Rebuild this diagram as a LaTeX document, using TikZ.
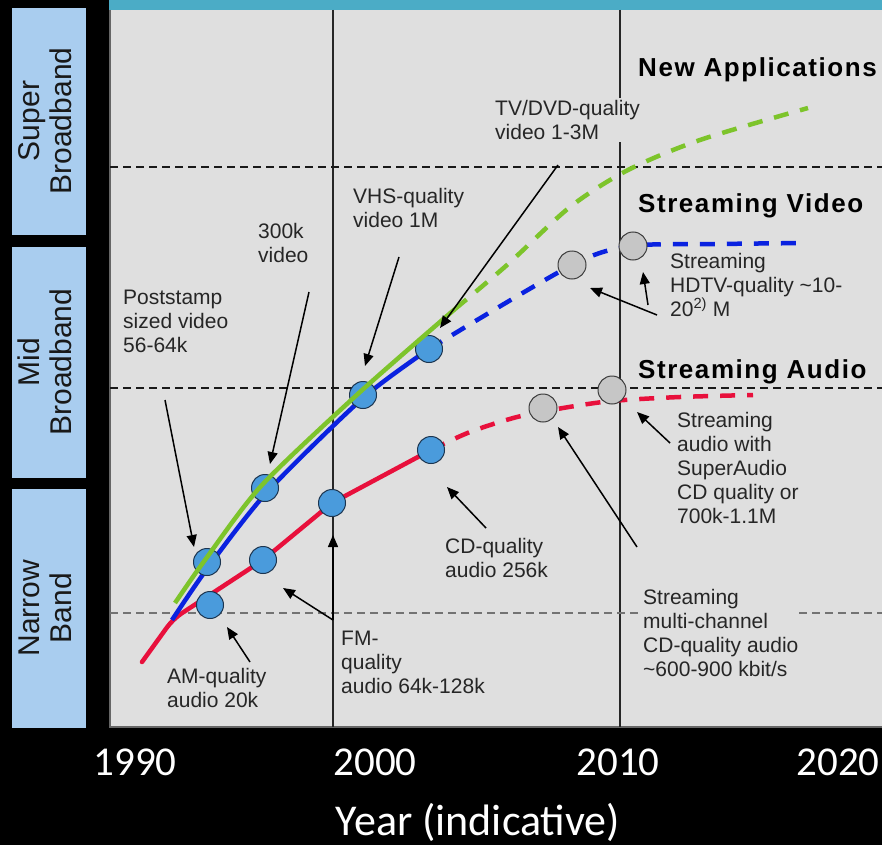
\documentclass[tikz,border=0pt]{standalone}
\usepackage{fontspec}
\setmainfont{Liberation Sans}
\newfontfamily\headfont[LetterSpace=6]{Liberation Sans}
\newfontfamily\calfont{Carlito}
\usetikzlibrary{arrows.meta}
\definecolor{bandblue}{HTML}{A9CDEF}
\definecolor{plotgray}{HTML}{DFDFDF}
\definecolor{tealbar}{HTML}{4BACC6}
\definecolor{redc}{HTML}{E8103C}
\definecolor{bluec}{HTML}{0A22E0}
\definecolor{greenc}{HTML}{7DC42B}
\definecolor{dotblue}{HTML}{4A9BDC}
\definecolor{dotedge}{HTML}{1C3550}
\definecolor{dotgray}{HTML}{C6C6C6}
\definecolor{dotgedge}{HTML}{3C3C3C}
\definecolor{labelgray}{HTML}{262626}
\begin{document}
\begin{tikzpicture}[x=1pt,y=-1pt,
  lbl/.style={font=\fontsize{21}{24}\selectfont, text=labelgray, align=left, anchor=north west, inner sep=0pt},
  head/.style={font=\headfont\bfseries\fontsize{26}{30}\selectfont, text=black, anchor=north west, inner sep=0pt},
  bandbox/.style={fill=bandblue, draw=none},
  bandtxt/.style={font=\fontsize{30}{32}\selectfont, text=black!90, rotate=90, align=center, inner sep=0pt},
  yr/.style={font=\calfont\fontsize{41}{44}\selectfont, text=white, inner sep=0pt},
  ptr/.style={-{Triangle[length=12pt,width=10pt]}, line width=1.5pt, black},
  dotb/.style={circle, fill=dotblue, draw=dotedge, line width=1pt, minimum size=27pt, inner sep=0pt},
  dotg/.style={circle, fill=dotgray, draw=dotgedge, line width=1pt, minimum size=28pt, inner sep=0pt},
  grid/.style={black!90, line width=1.6pt, dash pattern=on 8pt off 5pt},
  solidc/.style={line width=4.5pt},
  dashc/.style={line width=4.5pt, dash pattern=on 15pt off 12pt}
]
% background
\fill[black] (0,0) rectangle (882,845);
\useasboundingbox (0,0) rectangle (882,845);
% plot area
\fill[plotgray] (110,10) rectangle (882,727);
\fill[tealbar] (109,0) rectangle (882,10);
\draw[black!60, line width=2pt] (110,10) -- (110,727) -- (882,727);
% band boxes
\fill[bandbox] (12,8) rectangle (86,235);
\fill[bandbox] (12,247) rectangle (86,478);
\fill[bandbox] (12,489) rectangle (86,728);
\node[bandtxt] (bsuper) at (45,121) {Super\\Broadband};
\node[bandtxt] (bmid) at (45,362) {Mid\\Broadband};
\node[bandtxt] (bnarrow) at (45,608) {Narrow\\Band};
% grid lines
\draw[black!85, line width=1.5pt] (333,10) -- (333,727);
\draw[black!85, line width=1.5pt] (620,10) -- (620,727);
\draw[grid] (110,167) -- (882,167);
\draw[grid] (110,388) -- (882,388);
\draw[grid, black!55] (110,613) -- (882,613);
% headings
\node[head] (hnew) at (638,57) {New Applications};
\node[head] (hvid) at (638,193) {Streaming Video};
\node[head] (haud) at (638,359) {Streaming Audio};
% dot coordinates
\coordinate (pPost) at (207,562);
\coordinate (p300) at (265,488);
\coordinate (pVHS) at (363,395);
\coordinate (pTV) at (429,349);
\coordinate (pAM) at (210,605);
\coordinate (pFM1) at (263,560);
\coordinate (pFM2) at (332,503);
\coordinate (pCD) at (431,450);
\coordinate (gA1) at (543,408);
\coordinate (gA2) at (612,390);
\coordinate (gV1) at (572,265);
\coordinate (gV2) at (633,246);
% red curve
\draw[redc, solidc, line cap=round, rounded corners=10pt] (142,662) -- (173,619) -- (pFM1) -- (pFM2) -- (pCD);
\draw[redc, dashc] plot[smooth, tension=0.5] coordinates {(pCD) (470,432) (517,417) (563,408) (612,401) (680,397) (753,395)};
% blue curve
\draw[bluec, solidc] plot[smooth, tension=0.45] coordinates {(172,620) (209,566) (268,491) (363,398) (pTV)};
\draw[bluec, dashc] plot[smooth, tension=0.5] coordinates {(pTV) (gV1) (gV2) (720,244) (807,243)};
% dots
\node[dotb] (dPost) at (pPost) {};
\node[dotb] (d300) at (p300) {};
\node[dotb] (dVHS) at (pVHS) {};
\node[dotb] (dTV) at (pTV) {};
\node[dotb] (dAM) at (pAM) {};
\node[dotb] (dFM1) at (pFM1) {};
\node[dotb] (dFM2) at (pFM2) {};
\node[dotb] (dCD) at (pCD) {};
\node[dotg] (dA1) at (gA1) {};
\node[dotg] (dA2) at (gA2) {};
\node[dotg] (dV1) at (gV1) {};
\node[dotg] (dV2) at (gV2) {};
% green curve
\draw[greenc, solidc] plot[smooth, tension=0.45] coordinates {(175,603) (205,560) (262,485) (360,392) (455,309)};
\draw[greenc, dashc] plot[smooth, tension=0.5] coordinates {(455,309) (507,265) (570,207) (628,170) (700,140) (808,108)};
% labels
\node[lbl] (lPost) at (123,290) {Poststamp\\sized video\\56-64k};
\node[lbl] (l300) at (258,223) {300k\\video};
\node[lbl] (lVHS) at (353,188) {VHS-quality\\video 1M};
\node[lbl, fill=plotgray, inner sep=2pt] (lTV) at (493,98) {TV/DVD-quality\\video 1-3M};
\node[lbl] (lHD) at (670,253) {Streaming\\HDTV-quality \textasciitilde10-\\20\textsuperscript{2)} M};
\node[lbl] (lSA) at (677,412) {Streaming\\audio with\\SuperAudio\\CD quality or\\700k-1.1M};
\node[lbl] (lCD) at (445,538) {CD-quality\\audio 256k};
\node[lbl] (lFM) at (341,631) {FM-\\quality\\audio 64k-128k};
\node[lbl] (lAM) at (167,668) {AM-quality\\audio 20k};
\node[lbl, fill=plotgray, inner ysep=2pt, inner xsep=0pt] (lMC) at (643,587) {Streaming\\multi-channel\\CD-quality audio\\\textasciitilde600-900 kbit/s};
% arrow tails and tips
\coordinate (tPost) at (165,400); \coordinate (hPost) at (194,547);
\coordinate (t300) at (309,292); \coordinate (h300) at (270,464);
\coordinate (tVHS) at (399,257); \coordinate (hVHS) at (365,366);
\coordinate (tTV) at (558,165); \coordinate (hTV) at (440,328);
\coordinate (tCD) at (486,528); \coordinate (hCD) at (447,487);
\coordinate (tFM) at (333,620); \coordinate (hFMa) at (333,535); \coordinate (hFMb) at (283,588);
\coordinate (tAM) at (250,662); \coordinate (hAM) at (227,627);
\coordinate (tSA) at (670,443); \coordinate (hSA) at (637,412);
\coordinate (tMC) at (637,547); \coordinate (hMC) at (558,427);
\coordinate (tHDa) at (657,315); \coordinate (hHDa) at (590,288);
\coordinate (tHDb) at (648,305); \coordinate (hHDb) at (643,272);
\draw[ptr] (tPost) -- (hPost);
\draw[ptr] (t300) -- (h300);
\draw[ptr] (tVHS) -- (hVHS);
\draw[ptr] (tTV) -- (hTV);
\draw[ptr] (tCD) -- (hCD);
\draw[ptr] (tFM) -- (hFMa);
\draw[ptr] (tFM) -- (hFMb);
\draw[ptr] (tAM) -- (hAM);
\draw[ptr] (tSA) -- (hSA);
\draw[ptr] (tMC) -- (hMC);
\draw[ptr] (tHDa) -- (hHDa);
\draw[ptr] (tHDb) -- (hHDb);
% axis
\node[yr] (y1990) at (135,762) {1990};
\node[yr] (y2000) at (375,762) {2000};
\node[yr] (y2010) at (618,762) {2010};
\node[yr] (y2020) at (838,762) {2020};
\node[yr, font=\calfont\fontsize{44}{48}\selectfont] (xlab) at (478,822) {Year (indicative)};
\end{tikzpicture}
\end{document}
